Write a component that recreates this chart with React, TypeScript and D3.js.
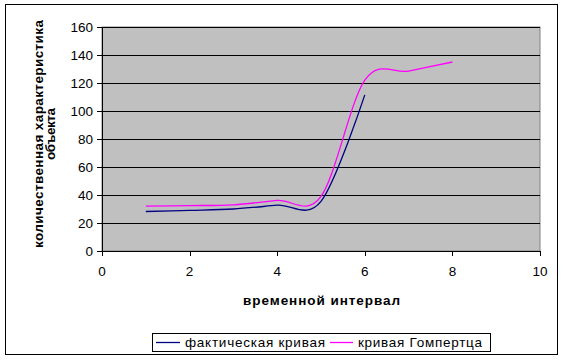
import React from "react";
import * as d3 from "d3";

const xValues = [1, 2, 3, 4, 5, 6, 7, 8];
const actualValues = [28.2, 29, 30, 32.7, 35.5, 111.5];
const gompertzValues = [32, 32.4, 33, 36.1, 39, 122, 128.5, 135];
const yTicks = [0, 20, 40, 60, 80, 100, 120, 140, 160];
const xTicks = [0, 2, 4, 6, 8, 10];
const seriesNames = ["фактическая кривая", "кривая Гомпертца"];
const seriesColors = ["#000080", "#FF00FF"];

export default function App() {
  const W = 565, H = 361;
  const left = 102, right = 540, top = 27, bottom = 251;
  const x = d3.scaleLinear().domain([0, 10]).range([left, right]);
  const y = d3.scaleLinear().domain([0, 160]).range([bottom, top]);
  const line = d3
    .line<number>()
    .x((_, i) => x(xValues[i]))
    .y((d) => y(d))
    .curve(d3.curveCardinal.tension(0));
  const font = "'Liberation Sans', Arial, sans-serif";
  return (
    <svg
      width={W}
      height={H}
      style={{ position: "absolute", left: 0, top: 0, background: "#fff" }}
      fontFamily={font}
    >
      <rect x={5.5} y={4.5} width={552} height={350} fill="#fff" stroke="#000" strokeWidth={1} />
      <rect x={left} y={top} width={right - left} height={bottom - top} fill="#C0C0C0" stroke="#808080" strokeWidth={1} />
      {yTicks.map((t) => (
        <g key={t}>
          {t > 0 && (
            <line x1={left} x2={right} y1={Math.round(y(t)) + 0.5} y2={Math.round(y(t)) + 0.5} stroke="#000" strokeWidth={1} />
          )}
          <line x1={left - 5} x2={left} y1={Math.round(y(t)) + 0.5} y2={Math.round(y(t)) + 0.5} stroke="#000" />
          <text x={left - 9} y={y(t) + 4.5} fontSize={13.5} textAnchor="end" fill="#000">
            {t}
          </text>
        </g>
      ))}
      <line x1={left + 0.5} x2={left + 0.5} y1={top} y2={bottom + 0.5} stroke="#000" />
      <line x1={left} x2={right} y1={bottom + 0.5} y2={bottom + 0.5} stroke="#000" />
      {xTicks.map((t) => (
        <g key={t}>
          <line x1={Math.round(x(t)) + 0.5} x2={Math.round(x(t)) + 0.5} y1={bottom} y2={bottom + 5} stroke="#000" />
          <text x={x(t)} y={bottom + 25} fontSize={13.5} textAnchor="middle" fill="#000">
            {t}
          </text>
        </g>
      ))}
      <path d={line(actualValues) || ""} fill="none" stroke={seriesColors[0]} strokeWidth={1.3} />
      <path d={line(gompertzValues) || ""} fill="none" stroke={seriesColors[1]} strokeWidth={1.3} />
      <text x={243} y={305} fontSize={13.5} fontWeight="bold" fill="#000" textLength={157} lengthAdjust="spacing">
        временной интервал
      </text>
      <g transform="translate(43,134) rotate(-90)">
        <text x={0} y={0} fontSize={13.5} fontWeight="bold" textAnchor="middle" fill="#000" textLength={228} lengthAdjust="spacing">
          количественная характеристика
        </text>
        <text x={0} y={12} fontSize={13.5} fontWeight="bold" textAnchor="middle" fill="#000" textLength={52} lengthAdjust="spacing">
          объекта
        </text>
      </g>
      <rect x={152.5} y={333.5} width={338} height={18} fill="#fff" stroke="#000" strokeWidth={1} />
      <line x1={156} x2={180} y1={342.5} y2={342.5} stroke={seriesColors[0]} strokeWidth={1.3} />
      <text x={185} y={347} fontSize={13.5} fill="#000" textLength={140} lengthAdjust="spacing">{seriesNames[0]}</text>
      <line x1={330} x2={353} y1={342.5} y2={342.5} stroke={seriesColors[1]} strokeWidth={1.3} />
      <text x={358} y={347} fontSize={13.5} fill="#000" textLength={124} lengthAdjust="spacing">{seriesNames[1]}</text>
    </svg>
  );
}
